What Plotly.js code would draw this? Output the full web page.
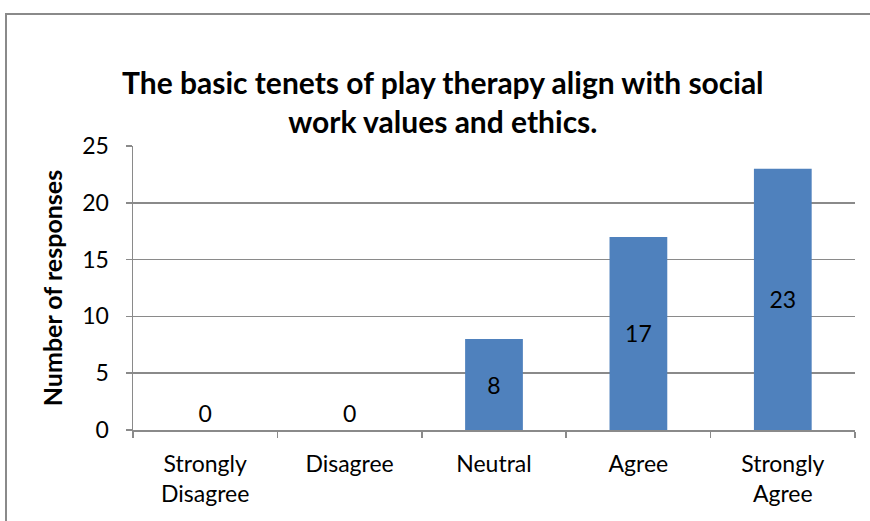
<!DOCTYPE html>
<html><head><meta charset="utf-8">
<script src="https://cdn.plot.ly/plotly-3.0.1.min.js"></script>
<style>
body{margin:0;padding:0;background:#fff;overflow:hidden;}
#chart{width:870px;height:521px;position:absolute;left:0;top:0;}
#frame{position:absolute;left:5px;top:13px;width:900px;height:600px;border:2px solid #8a8a8a;pointer-events:none;}
</style></head>
<body>
<div id="chart"></div>
<div id="frame"></div>
<script>
const categories = ["Strongly<br>Disagree", "Disagree", "Neutral", "Agree", "Strongly<br>Agree"];
const responses = [0, 0, 8, 17, 23];
const labelPositions = ["outside", "outside", "inside", "inside", "inside"];
const yTicks = [0, 5, 10, 15, 20, 25];

const font = "Lato, 'Open Sans', sans-serif";
const fs = 23;
const trace = {
  type: "bar",
  x: categories,
  y: responses,
  text: responses.map(String),
  textposition: labelPositions,
  insidetextanchor: "middle",
  textfont: {family: font, size: fs, color: "#000"},
  outsidetextfont: {family: font, size: fs, color: "#000"},
  insidetextfont: {family: font, size: fs, color: "#000"},
  constraintext: "none",
  cliponaxis: false,
  marker: {color: "#4F81BD", line: {width: 0}},
  hoverinfo: "none"
};
const layout = {
  width: 870, height: 521,
  margin: {l: 133, r: 15, t: 146, b: 91},
  paper_bgcolor: "#fff", plot_bgcolor: "#fff",
  bargap: 0.6,
  showlegend: false,
  title: {
    text: "<b>The basic tenets of play therapy align with social<br>work values and ethics.</b>",
    font: {family: font, size: 30, color: "#000"},
    x: 0.509, xanchor: "center", xref: "container",
    y: 0.82, yanchor: "top"
  },
  xaxis: {
    type: "category",
    showline: true, linecolor: "#8a8a8a", linewidth: 1.5,
    ticks: "outside", tickson: "boundaries", ticklen: 6, tickcolor: "#8a8a8a", tickwidth: 1.5,
    tickfont: {family: font, size: fs, color: "#000"},
    ticklabelstandoff: 13,
    showgrid: false, zeroline: false
  },
  yaxis: {
    range: [0, 25],
    tickvals: yTicks,
    showline: true, linecolor: "#8a8a8a", linewidth: 1.5,
    ticks: "outside", ticklen: 6, tickcolor: "#8a8a8a", tickwidth: 1.5,
    tickfont: {family: font, size: fs, color: "#000"},
    ticklabelstandoff: 12,
    showgrid: true, gridcolor: "#8a8a8a", gridwidth: 1.5,
    zeroline: false,
    title: {text: "<b>Number of responses</b>", font: {family: font, size: 25, color: "#000"}, standoff: 12}
  }
};
Plotly.newPlot("chart", [trace], layout, {staticPlot: true, displayModeBar: false});
</script>
</body></html>
